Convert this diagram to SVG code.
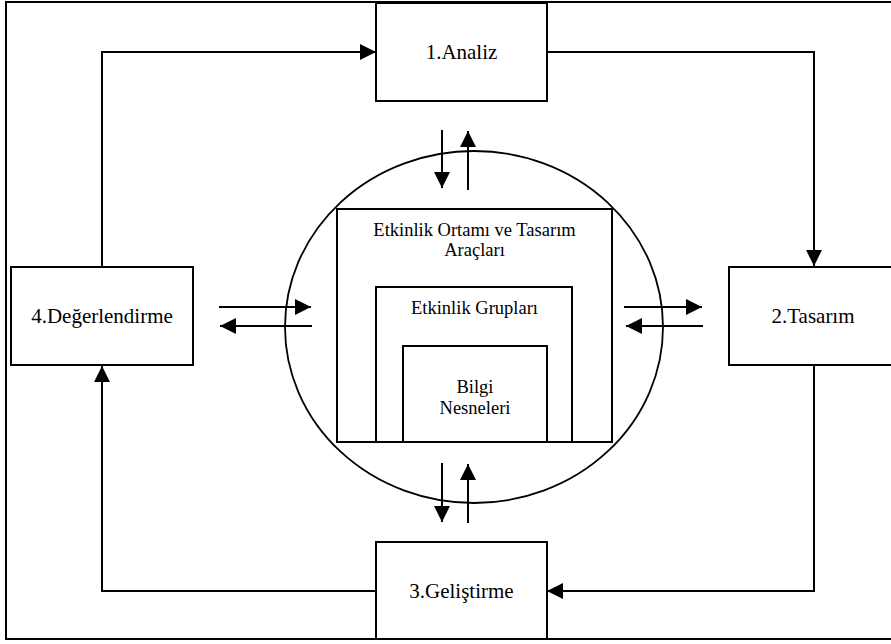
<svg xmlns="http://www.w3.org/2000/svg" width="891" height="644" viewBox="0 0 891 644">
<defs>
<style>
.box{fill:#fff;stroke:#000;stroke-width:2}
.ln{fill:none;stroke:#000;stroke-width:2}
.lbl{font-family:"Liberation Serif","Times New Roman",serif;font-size:21px;fill:#000;text-anchor:middle}
.in{font-family:"Liberation Serif","Times New Roman",serif;font-size:18.5px;fill:#000;text-anchor:middle}
</style>
<marker id="ah" viewBox="0 0 16 16" refX="16" refY="8" markerWidth="16" markerHeight="16" markerUnits="userSpaceOnUse" orient="auto">
<path d="M0,0 L16,8 L0,16 Z" fill="#000"/>
</marker>
</defs>
<rect width="891" height="644" fill="#fff"/>
<rect id="frame" x="6" y="2" width="890" height="637" fill="none" stroke="#000" stroke-width="2"/>
<g id="connectors">
<polyline class="ln" points="102,267 102,52 376,52" marker-end="url(#ah)"/>
<polyline class="ln" points="547,52 814,52 814,266" marker-end="url(#ah)"/>
<polyline class="ln" points="814,365 814,591 547,591" marker-end="url(#ah)"/>
<polyline class="ln" points="376,591 102,591 102,366" marker-end="url(#ah)"/>
<line class="ln" x1="442" y1="130" x2="442" y2="188" marker-end="url(#ah)"/>
<line class="ln" x1="468" y1="190" x2="468" y2="131" marker-end="url(#ah)"/>
<line class="ln" x1="442" y1="463" x2="442" y2="522" marker-end="url(#ah)"/>
<line class="ln" x1="468" y1="523" x2="468" y2="464" marker-end="url(#ah)"/>
<line class="ln" x1="219" y1="307" x2="311" y2="307" marker-end="url(#ah)"/>
<line class="ln" x1="312" y1="326" x2="220" y2="326" marker-end="url(#ah)"/>
<line class="ln" x1="624" y1="307" x2="702" y2="307" marker-end="url(#ah)"/>
<line class="ln" x1="703" y1="326" x2="626" y2="326" marker-end="url(#ah)"/>
</g>
<g id="center">
<ellipse cx="474" cy="327" rx="189" ry="176" fill="none" stroke="#000" stroke-width="1.8"/>
<rect class="box" x="337" y="209" width="275" height="233"/>
<text class="in" x="474.5" y="236">Etkinlik Ortamı ve Tasarım</text>
<text class="in" x="474.5" y="256">Araçları</text>
<rect class="box" x="376" y="287" width="196" height="155"/>
<text class="in" x="474.5" y="314">Etkinlik Grupları</text>
<rect class="box" x="403" y="346" width="144" height="96"/>
<text class="in" x="475" y="393">Bilgi</text>
<text class="in" x="475" y="414">Nesneleri</text>
</g>
<g id="analiz">
<rect class="box" x="376" y="3" width="171" height="98"/>
<text class="lbl" x="461.5" y="59">1.Analiz</text>
</g>
<g id="tasarim">
<rect class="box" x="729" y="267" width="170" height="98"/>
<text class="lbl" x="813" y="323">2.Tasarım</text>
</g>
<g id="gelistirme">
<rect class="box" x="376" y="542" width="171" height="97"/>
<text class="lbl" x="461.5" y="598">3.Geliştirme</text>
</g>
<g id="degerlendirme">
<rect class="box" x="11" y="267" width="182" height="98"/>
<text class="lbl" x="102" y="323">4.Değerlendirme</text>
</g>
</svg>
